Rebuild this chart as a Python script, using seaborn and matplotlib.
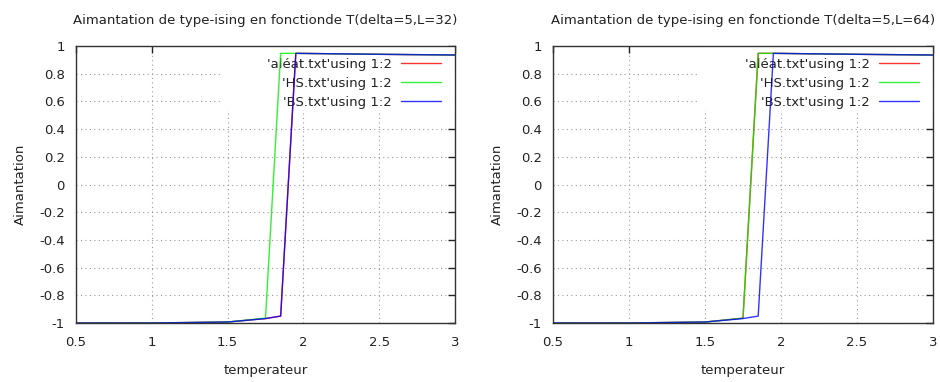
import matplotlib
matplotlib.use("Agg")
import matplotlib.pyplot as plt
from matplotlib.patches import Rectangle
import seaborn as sns
import pandas as pd

# Temperature sample points (vertices of the magnetisation curves)
temps = [0.5, 1.0, 1.5, 1.75, 1.85, 1.95, 2.5, 3.0]

# L = 32
m_bs_32 = [-1.0, -1.0, -0.993, -0.968, -0.95, 0.947, 0.94, 0.935]
m_hs_32 = [-1.0, -1.0, -0.993, -0.965, 0.947, 0.947, 0.94, 0.935]
m_alea_32 = [-1.0, -1.0, -0.993, -0.968, -0.95, 0.947, 0.94, 0.935]

# L = 64
m_bs_64 = [-1.0, -1.0, -0.993, -0.968, -0.95, 0.947, 0.94, 0.935]
m_hs_64 = [-1.0, -1.0, -0.993, -0.965, 0.947, 0.947, 0.94, 0.935]
m_alea_64 = [-1.0, -1.0, -0.993, -0.965, 0.947, 0.947, 0.94, 0.935]

labels = ["'aléat.txt'using 1:2", "'HS.txt'using 1:2", "'BS.txt'using 1:2"]
colors = ["#ff0000", "#00ee00", "#0000ff"]
titles = ["Aimantation de type-ising en fonctionde T(delta=5,L=32)",
          "Aimantation de type-ising en fonctionde T(delta=5,L=64)"]
xticks = [0.5, 1.0, 1.5, 2.0, 2.5, 3.0]
xticklabels = ["0.5", "1", "1.5", "2", "2.5", "3"]
yticks = [1.0, 0.8, 0.6, 0.4, 0.2, 0.0, -0.2, -0.4, -0.6, -0.8, -1.0]
yticklabels = ["1", "0.8", "0.6", "0.4", "0.2", "0", "-0.2", "-0.4", "-0.6", "-0.8", "-1"]

FS = 9.5
TXT = "#222222"

sns.set_theme(style="white")
plt.rcParams["font.family"] = ["DejaVu Sans"]

fig = plt.figure(figsize=(9.4, 3.82), dpi=100)
ax_l = fig.add_axes([76 / 940, 1 - 323 / 382, (455 - 76) / 940, (323 - 46) / 382])
ax_r = fig.add_axes([553 / 940, 1 - 323 / 382, (933 - 553) / 940, (323 - 46) / 382])

panels = [
    (ax_l, [m_alea_32, m_hs_32, m_bs_32], titles[0]),
    (ax_r, [m_alea_64, m_hs_64, m_bs_64], titles[1]),
]

for ax, series, title in panels:
    for vals, lab, col in zip(series, labels, colors):
        df = pd.DataFrame({"T": temps, "M": vals})
        sns.lineplot(data=df, x="T", y="M", ax=ax, color=col, label=lab,
                     sort=False, estimator=None, linewidth=1.0, alpha=0.8)
    ax.set_xlim(0.5, 3.0)
    ax.set_ylim(-1.0, 1.0)
    ax.set_xticks(xticks)
    ax.set_xticklabels(xticklabels)
    ax.set_yticks(yticks)
    ax.set_yticklabels(yticklabels)
    ax.tick_params(direction="in", length=5, width=1, color=TXT,
                   top=True, right=True, labelsize=FS, labelcolor=TXT, pad=8)
    ax.tick_params(axis="x", pad=9)
    for sp in ax.spines.values():
        sp.set_visible(True)
        sp.set_color("#333333")
        sp.set_linewidth(1.0)
    ax.set_axisbelow(True)
    ax.grid(True, linestyle=(0, (1, 3)), color="#999999", linewidth=0.8)
    ax.set_xlabel("temperateur", fontsize=FS, color=TXT, labelpad=11.5)
    ax.set_ylabel("Aimantation", fontsize=FS, color=TXT, labelpad=9)
    ax.set_title(title, fontsize=FS, color=TXT, pad=16)

    # blank area behind the key, covering the grid like the plotting program does
    ax.add_patch(Rectangle((0.38, 0.77), 0.62, 0.23, transform=ax.transAxes,
                           facecolor="white", edgecolor="none", zorder=1.2))
    leg = ax.legend(loc="upper right", markerfirst=False, frameon=False,
                    fontsize=FS, handlelength=3.0, handletextpad=0.7,
                    labelspacing=0.45, borderaxespad=0.0, borderpad=0.0,
                    bbox_to_anchor=(0.962, 0.958))
    leg.set_zorder(1.5)
    for t in leg.get_texts():
        t.set_color(TXT)

fig.savefig("out.png", dpi=100)
